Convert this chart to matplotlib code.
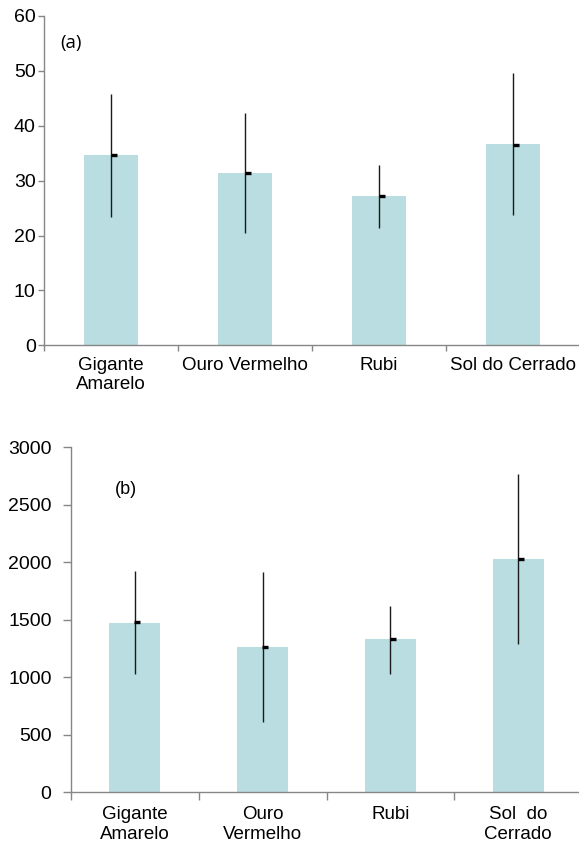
import numpy as np
import matplotlib
matplotlib.use('Agg')
import matplotlib.pyplot as plt
from matplotlib.ticker import FixedLocator, NullFormatter

# 品種名稱
cultivars_a = ['Gigante\nAmarelo', 'Ouro Vermelho', 'Rubi', 'Sol do Cerrado']
cultivars_b = ['Gigante\nAmarelo', 'Ouro\nVermelho', 'Rubi', 'Sol  do\nCerrado']

# (a) 數值
bars_a = [34.7, 31.4, 27.2, 36.7]
mean_a = [34.6, 31.4, 27.2, 36.5]
err_hi_a = [45.7, 42.4, 32.8, 49.6]
err_lo_a = [23.4, 20.4, 21.4, 23.7]

# (b) 數值
bars_b = [1475, 1263, 1333, 2031]
mean_b = [1481, 1266, 1333, 2031]
err_hi_b = [1927, 1915, 1623, 2765]
err_lo_b = [1026, 611, 1031, 1290]

BAR_COLOR = '#b9dde0'
AXIS_COLOR = '#868686'

plt.rcParams['font.family'] = ['Liberation Sans', 'DejaVu Sans']

fig = plt.figure(figsize=(5.79, 8.46), dpi=100)
W, H = 579, 846


def make_axes(left, right, top, bottom):
    return fig.add_axes([left / W, 1 - bottom / H, (right - left) / W, (bottom - top) / H])


def draw_panel(ax, labels, bars, means, hi, lo, ylim, yticks, ytick_len, ypad, xpad):
    x = np.arange(len(bars))
    ax.bar(x, bars, width=0.4, color=BAR_COLOR, zorder=1)
    ax.vlines(x, lo, hi, color='#1a1a1a', linewidth=1.0, zorder=2)
    ax.plot(x + 0.02, means, linestyle='none', marker='_', markersize=4,
            markeredgewidth=2.4, color='black', zorder=3)

    ax.set_xlim(-0.5, len(bars) - 0.5)
    ax.set_ylim(*ylim)
    ax.set_yticks(yticks)
    ax.set_xticks(x)
    ax.set_xticklabels(labels, fontsize=13.5, linespacing=1.17)
    ax.xaxis.set_minor_locator(FixedLocator(np.arange(-0.5, len(bars), 1.0)))
    ax.xaxis.set_minor_formatter(NullFormatter())
    ax.tick_params(axis='x', which='major', length=0, pad=xpad)
    ax.tick_params(axis='x', which='minor', length=ytick_len, color=AXIS_COLOR, width=1)
    ax.tick_params(axis='y', length=ytick_len, color=AXIS_COLOR, width=1,
                   labelsize=14, pad=ypad)

    for side in ['top', 'right']:
        ax.spines[side].set_visible(False)
    for side in ['left', 'bottom']:
        ax.spines[side].set_color(AXIS_COLOR)
        ax.spines[side].set_linewidth(1)


ax1 = make_axes(44, 580, 16, 345.3)
draw_panel(ax1, cultivars_a, bars_a, mean_a, err_hi_a, err_lo_a,
           (0, 60), [0, 10, 20, 30, 40, 50, 60], ytick_len=4, ypad=2, xpad=8.6)
ax1.text(-0.30, 55.0, '(a)', fontsize=13.5, family=['Open Sans', 'DejaVu Sans'],
         ha='center', va='center')

ax2 = make_axes(71, 582, 447.3, 792.3)
draw_panel(ax2, cultivars_b, bars_b, mean_b, err_hi_b, err_lo_b,
           (0, 3000), [0, 500, 1000, 1500, 2000, 2500, 3000], ytick_len=6, ypad=8, xpad=10.2)
ax2.text(-0.07, 2629, '(b)', fontsize=13, ha='center', va='center')

fig.savefig('out.png', dpi=100)
